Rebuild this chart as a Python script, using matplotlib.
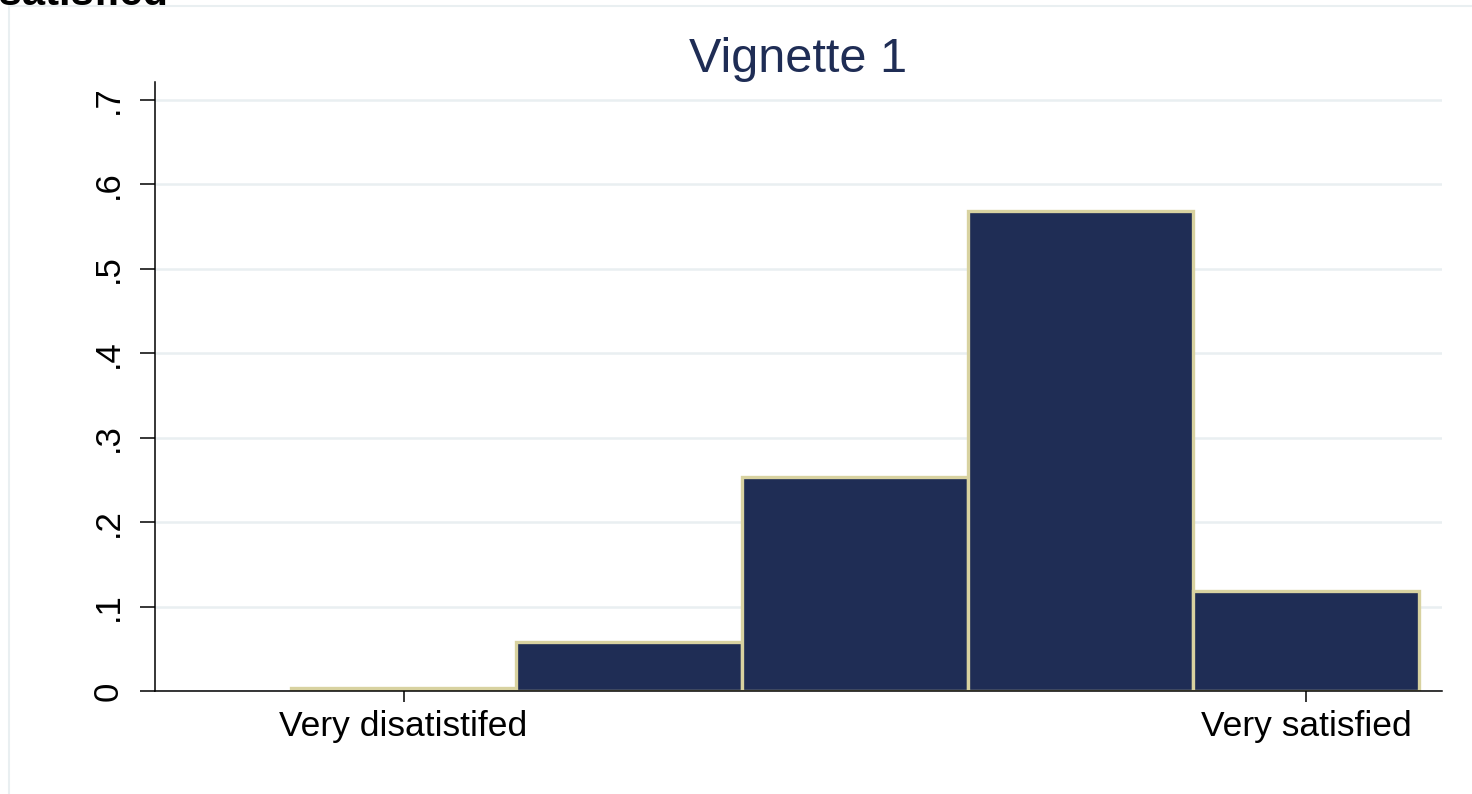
import matplotlib.pyplot as plt
from matplotlib.lines import Line2D

categories = [1, 2, 3, 4, 5]
density = [0.003, 0.058, 0.253, 0.568, 0.118]
xtick_pos = [1, 5]
xtick_labels = ["Very disatistifed", "Very satisfied"]
ytick_pos = [0, 0.1, 0.2, 0.3, 0.4, 0.5, 0.6, 0.7]
ytick_labels = ["0", ".1", ".2", ".3", ".4", ".5", ".6", ".7"]

navy = "#1f2d55"
beige = "#d8d2a0"
grid = "#e9eff1"

plt.rcParams["font.family"] = ["Liberation Sans", "DejaVu Sans"]

fig = plt.figure(figsize=(14.72, 7.94), dpi=100)
ax = fig.add_axes([0.1053, 0.1297, 0.8743, 0.767])

ax.bar(categories, density, width=1.0, color=navy, edgecolor=beige,
       linewidth=2.4, zorder=3)

ax.set_xlim(-0.1015, 5.603)
ax.set_ylim(0, 0.7213)
ax.set_yticks(ytick_pos)
ax.set_yticklabels(ytick_labels, rotation=90, va="center")
ax.set_xticks(xtick_pos)
ax.set_xticklabels(xtick_labels)
ax.tick_params(axis="y", length=11, width=1.1, pad=11, labelsize=25)
ax.tick_params(axis="x", length=8, width=1.1, pad=6, labelsize=25.5)
ax.yaxis.grid(True, color=grid, linewidth=1.8, zorder=0)
ax.set_axisbelow(True)

for side in ("top", "right"):
    ax.spines[side].set_visible(False)
for side in ("left", "bottom"):
    ax.spines[side].set_linewidth(1.1)
    ax.spines[side].set_zorder(4)

ax.set_title("Vignette 1", color=navy, fontsize=35, pad=6)

# outer graph region border (partly cropped in the original)
fig.add_artist(Line2D([9 / 1472, 1], [1 - 6 / 794, 1 - 6 / 794],
                      color=grid, linewidth=1.5, transform=fig.transFigure))
fig.add_artist(Line2D([9 / 1472, 9 / 1472], [0, 1 - 6 / 794],
                      color=grid, linewidth=1.5, transform=fig.transFigure))
# cropped heading at the very top
fig.text(168 / 1472, 1 - 5 / 794, "Very satisfied", fontsize=30,
         fontweight="bold", ha="right", va="baseline")

fig.savefig("out.png", dpi=100)
